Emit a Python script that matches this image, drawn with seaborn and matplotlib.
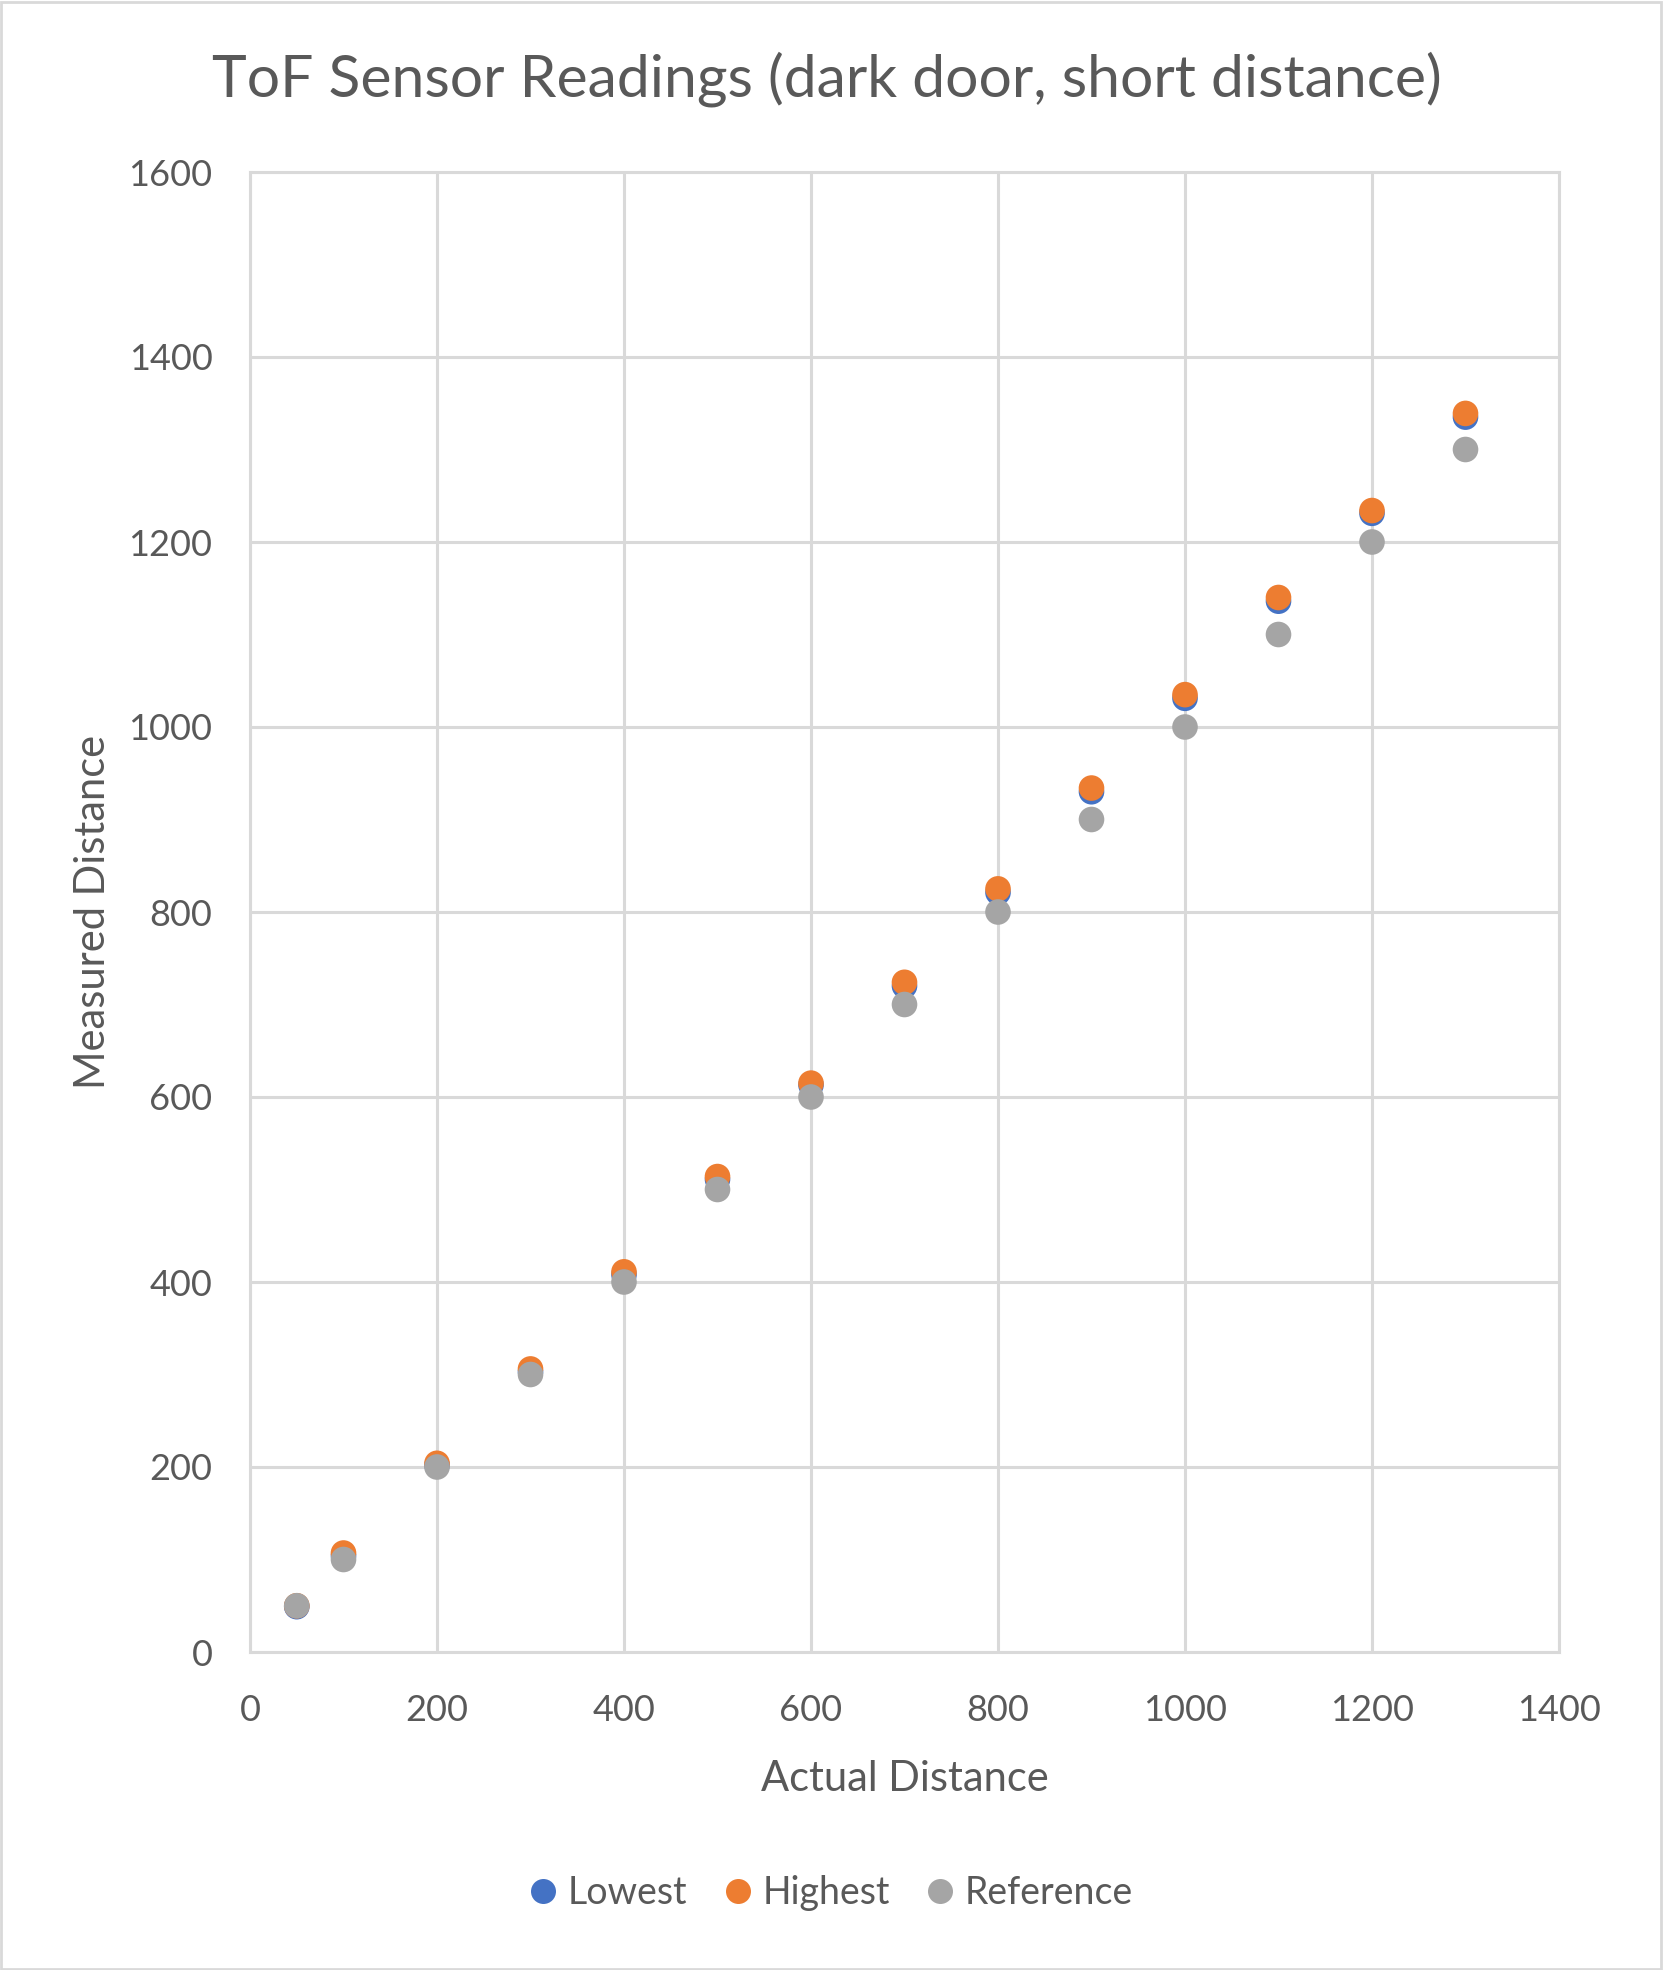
import numpy as np
import pandas as pd
import matplotlib
matplotlib.use("Agg")
import matplotlib.pyplot as plt
import seaborn as sns
from matplotlib.lines import Line2D
from matplotlib.patches import Rectangle

actual = [50, 100, 200, 300, 400, 500, 600, 700, 800, 900, 1000, 1100, 1200, 1300]
lowest = [49, 104, 202, 303, 408, 511, 613, 720, 821, 930, 1031, 1136, 1231, 1335]
highest = [50, 107, 204, 306, 411, 514, 615, 724, 825, 934, 1035, 1140, 1234, 1339]
reference = [50, 100, 200, 300, 400, 500, 600, 700, 800, 900, 1000, 1100, 1200, 1300]
series_names = ["Lowest", "Highest", "Reference"]
colors = ["#4472C4", "#ED7D31", "#A5A5A5"]
x_ticks = [0, 200, 400, 600, 800, 1000, 1200, 1400]
y_ticks = [0, 200, 400, 600, 800, 1000, 1200, 1400, 1600]

df = pd.DataFrame({
    "Actual Distance": actual * 3,
    "Measured Distance": lowest + highest + reference,
    "Series": ["Lowest"] * len(actual) + ["Highest"] * len(actual) + ["Reference"] * len(actual),
})

sns.set_theme(style="white")
plt.rcParams['font.family'] = ['Lato', 'DejaVu Sans']
text_color = "#595959"
grid_color = "#D9D9D9"

W, H = 1663, 1970
fig = plt.figure(figsize=(W / 100, H / 100), dpi=100)
fig.patch.set_facecolor("white")
ax = fig.add_axes([250 / W, 1 - 1652 / H, (1559 - 250) / W, (1652 - 172) / H])

sns.scatterplot(data=df, x="Actual Distance", y="Measured Distance", hue="Series",
                hue_order=series_names, palette=colors, s=340, linewidth=0,
                edgecolor="none", ax=ax, legend=False, zorder=3)

ax.set_xlim(0, 1400)
ax.set_ylim(0, 1600)
ax.set_xticks(x_ticks)
ax.set_yticks(y_ticks)
ax.grid(True, color=grid_color, linewidth=2.2, zorder=0)
ax.set_axisbelow(True)
for sp in ax.spines.values():
    sp.set_visible(True)
    sp.set_color(grid_color)
    sp.set_linewidth(2.2)
ax.tick_params(axis="both", length=0, labelsize=26, colors=text_color)
ax.tick_params(axis="x", pad=30)
ax.tick_params(axis="y", pad=27)

ax.set_xlabel("Actual Distance", fontsize=30, color=text_color, labelpad=24)
ax.set_ylabel("Measured Distance", fontsize=30, color=text_color, labelpad=12)
fig.text(0.497, 1 - 79 / H, "ToF Sensor Readings (dark door, short distance)",
         ha="center", va="center", fontsize=42.4, color=text_color)

handles = [Line2D([0], [0], marker="o", linestyle="none", markersize=18,
                  markerfacecolor=c, markeredgecolor="none") for c in colors]
fig.legend(handles, series_names, loc="center", bbox_to_anchor=(0.5, 1 - 1893 / H),
           ncol=3, frameon=False, fontsize=27, labelcolor=text_color,
           handlelength=0.7, handletextpad=0.3, columnspacing=1.0)

fig.add_artist(Rectangle((1 / W, 1 / H), 1 - 3 / W, 1 - 3 / H, transform=fig.transFigure,
                         fill=False, edgecolor=grid_color, linewidth=2))

fig.savefig("out.png", dpi=100, facecolor="white")
